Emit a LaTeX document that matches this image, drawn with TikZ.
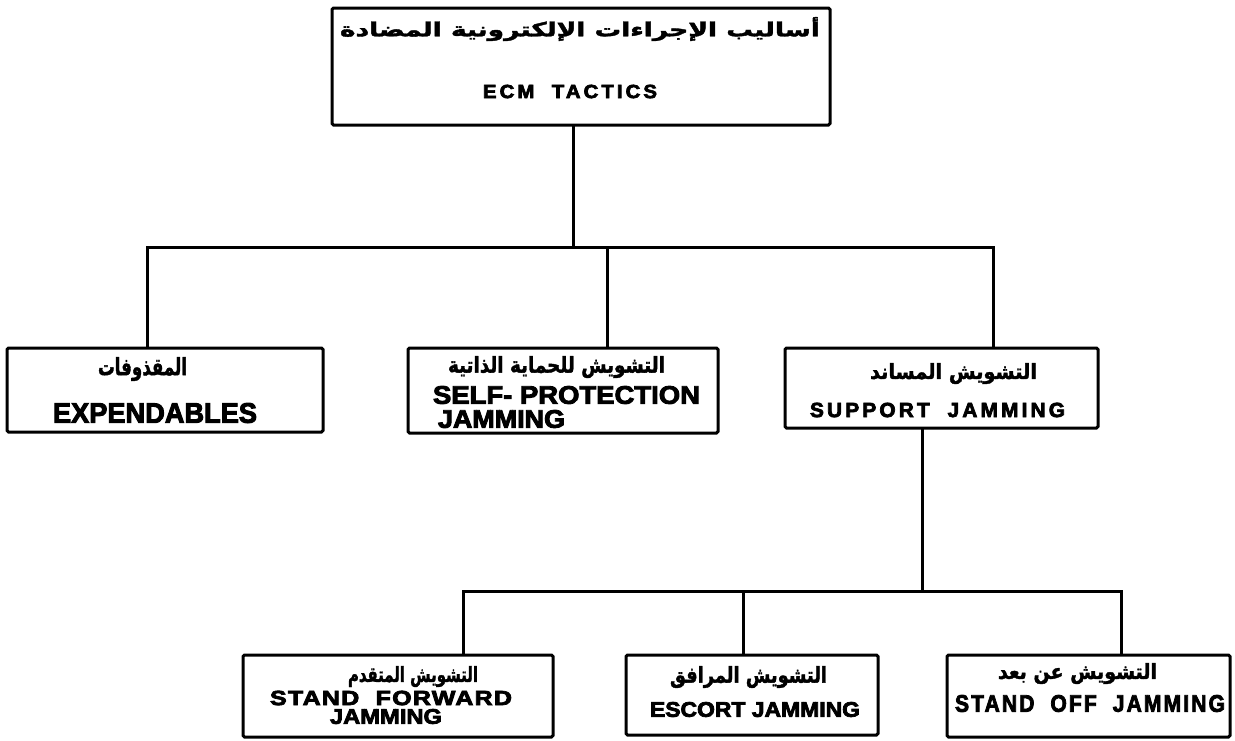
\documentclass[tikz,border=0pt]{standalone}
\usepackage{fontspec}
\usepackage{graphicx}
\TeXXeTstate=1
\newfontfamily\arabicfont[Script=Arabic]{DejaVu Sans}
\newfontfamily\latinfont{Liberation Sans}

% heavier ink: fill and stroke the glyph outlines with the given pen
\newcommand\inked[2]{\special{pdf:code q 2 Tr #1 w}#2\special{pdf:code Q}}
% Arabic line scaled to a given width and total height
\newcommand\artext[3]{\resizebox*{#1}{#2}{\arabicfont\bfseries\inked{0.18}{#3}}}
% Latin line scaled to a given width and total height, with tracking
\newcommand\entext[4]{\resizebox*{#1}{#2}{\latinfont\bfseries\addfontfeature{LetterSpace=#3}\inked{0.35}{#4}}}

\tikzset{
  box/.style={draw, line width=3pt, rectangle, rounded corners=1.5pt,
              inner sep=0pt, outer sep=0pt},
  txt/.style={inner sep=0pt, outer sep=0pt, anchor=center},
  wire/.style={line width=3pt}
}

\begin{document}
\begin{tikzpicture}[x=1pt,y=-1pt]
\fill[white] (0,0) rectangle (1235,740);
\useasboundingbox (0,0) rectangle (1235,740);

% ---- boxes ----
\node[box, minimum width=498pt, minimum height=117pt] (ecm) at (581,66.5) {};
\node[box, minimum width=316pt, minimum height=84pt]  (exp) at (165,390) {};
\node[box, minimum width=310pt, minimum height=85pt]  (sp)  at (563,390.5) {};
\node[box, minimum width=313pt, minimum height=80pt]  (sup) at (941.5,388) {};
\node[box, minimum width=310pt, minimum height=82pt]  (sf)  at (398,696) {};
\node[box, minimum width=252pt, minimum height=80pt]  (esc) at (752,695) {};
\node[box, minimum width=283pt, minimum height=82pt]  (so)  at (1088.5,696) {};

% ---- labels ----
\node[txt] (ecmA) at (580,29)    {\artext{480pt}{24pt}{\beginR أساليب الإجراءات الإلكترونية المضادة\endR}};
\node[txt] (ecmE) at (570,91.5)  {\entext{174pt}{13.5pt}{15}{ECM\ \ TACTICS}};

\node[txt] (expA) at (142.5,369) {\artext{89pt}{24pt}{\beginR المقذوفات\endR}};
\node[txt] (expE) at (155,413)   {\entext{204pt}{20pt}{0}{EXPENDABLES}};

\node[txt] (spA)  at (556.5,367) {\artext{217pt}{22pt}{\beginR التشويش للحماية الذاتية\endR}};
\node[txt] (spE1) at (566.5,395) {\entext{267pt}{18pt}{0}{SELF- PROTECTION}};
\node[txt] (spE2) at (501.5,419) {\entext{127pt}{18pt}{0}{JAMMING}};

\node[txt] (supA) at (953.5,373.5) {\artext{167pt}{21pt}{\beginR التشويش المساند\endR}};
\node[txt] (supE) at (937.5,410)   {\entext{255pt}{14.5pt}{15}{SUPPORT\ \ JAMMING}};

\node[txt] (sfA)  at (413,676.5) {\artext{130pt}{21pt}{\beginR التشويش المتقدم\endR}};
\node[txt] (sfE1) at (391,698)   {\entext{242pt}{14.5pt}{5}{STAND\ \ FORWARD}};
\node[txt] (sfE2) at (386,716.5) {\entext{112pt}{15pt}{0}{JAMMING}};

\node[txt] (escA) at (748.5,677) {\artext{157pt}{22pt}{\beginR التشويش المرافق\endR}};
\node[txt] (escE) at (755,709.5) {\entext{210pt}{15pt}{0}{ESCORT JAMMING}};

\node[txt] (soA)  at (1077.5,673.5) {\artext{159pt}{21pt}{\beginR التشويش عن بعد\endR}};
\node[txt] (soE)  at (1090,703.5)   {\entext{270pt}{17pt}{10}{STAND\ \ OFF\ \ JAMMING}};

% ---- upper connectors ----
\coordinate (t1) at (573,247);
\coordinate (bL) at (147,247);
\coordinate (bM) at (607,247);
\coordinate (bR) at (993,247);
\draw[wire] (ecm.south -| t1) -- (t1);
\draw[wire] (exp.north -| bL) -- (bL) -- (bR) -- (sup.north -| bR);
\draw[wire] (bM) -- (sp.north -| bM);

% ---- lower connectors ----
\coordinate (s1) at (922,591);
\coordinate (cL) at (463,591);
\coordinate (cM) at (743,591);
\coordinate (cR) at (1121,591);
\draw[wire] (sup.south -| s1) -- (s1);
\draw[wire] (sf.north -| cL) -- (cL) -- (cR) -- (so.north -| cR);
\draw[wire] (cM) -- (esc.north -| cM);
\end{tikzpicture}
\end{document}
